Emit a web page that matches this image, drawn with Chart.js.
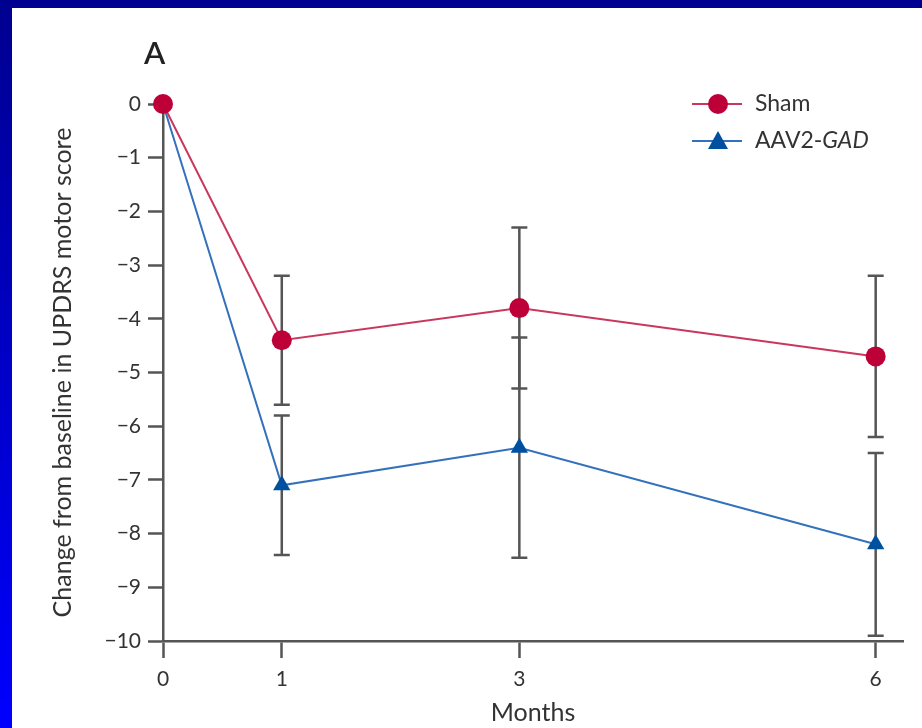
<!DOCTYPE html>
<html>
<head>
<meta charset="utf-8">
<script src="https://cdn.jsdelivr.net/npm/chart.js@4"></script>
<style>
  html, body { margin: 0; padding: 0; }
  body {
    width: 922px; height: 728px; overflow: hidden;
    background: linear-gradient(to bottom, #000090 0%, #0000ff 100%);
    position: relative;
  }
  #wrap {
    position: absolute; left: 12px; top: 8px;
    width: 910px; height: 720px; background: #fff;
  }
</style>
</head>
<body>
<div id="wrap"><canvas id="chart" width="910" height="720"></canvas></div>
<script>
// Data
const months = [0, 1, 3, 6];
const shamMean = [0, -4.4, -3.8, -4.7];
const shamErr = [0, 1.2, 1.5, 1.5];
const gadMean = [0, -7.1, -6.4, -8.2];
const gadErr = [0, 1.3, 2.05, 1.7];
const xTicks = [0, 1, 3, 6];

const FONT = 'Lato, "Open Sans", sans-serif';
const AXIS = '#555555';
const RED = '#be0038', RED_LINE = '#c9375f';
const BLUE = '#0050a0', BLUE_LINE = '#3471bd';

const toPoints = (ys) => months.map((m, i) => ({ x: m, y: ys[i] }));

// Error bars, drawn under the markers
const errorBars = {
    id: 'errorBars',
    beforeDatasetsDraw(chart) {
        const ctx = chart.ctx;
        const xs = chart.scales.x, ys = chart.scales.y;
        const sets = [[shamMean, shamErr], [gadMean, gadErr]];
        ctx.save();
        ctx.strokeStyle = AXIS;
        ctx.lineWidth = 2.5;
        sets.forEach(([mean, err]) => {
            months.forEach((m, i) => {
                if (!err[i]) return;
                const px = xs.getPixelForValue(m);
                const top = ys.getPixelForValue(mean[i] + err[i]);
                const bot = ys.getPixelForValue(mean[i] - err[i]);
                ctx.beginPath();
                ctx.moveTo(px, top); ctx.lineTo(px, bot);
                ctx.moveTo(px - 8, top); ctx.lineTo(px + 8, top);
                ctx.moveTo(px - 8, bot); ctx.lineTo(px + 8, bot);
                ctx.stroke();
            });
        });
        ctx.restore();
    }
};

// Panel letter and the line+marker legend
const extras = {
    id: 'extras',
    afterDraw(chart) {
        const ctx = chart.ctx;
        ctx.save();
        ctx.fillStyle = '#222';
        ctx.font = '600 31px ' + FONT;
        ctx.textBaseline = 'middle';
        ctx.textAlign = 'left';
        ctx.fillText('A', 132, 46);

        const items = [
            { label: 'Sham', line: RED_LINE, fill: RED, shape: 'circle', y: 96 },
            { label: 'AAV2-', italic: 'GAD', line: BLUE_LINE, fill: BLUE, shape: 'triangle', y: 133 }
        ];
        items.forEach(it => {
            ctx.strokeStyle = it.line;
            ctx.lineWidth = 2;
            ctx.beginPath();
            ctx.moveTo(680, it.y); ctx.lineTo(730, it.y);
            ctx.stroke();
            ctx.fillStyle = it.fill;
            ctx.beginPath();
            if (it.shape === 'circle') {
                ctx.arc(706, it.y, 10, 0, Math.PI * 2);
            } else {
                ctx.moveTo(706, it.y - 10);
                ctx.lineTo(716, it.y + 8);
                ctx.lineTo(696, it.y + 8);
                ctx.closePath();
            }
            ctx.fill();
            ctx.fillStyle = '#333';
            ctx.font = '23px ' + FONT;
            ctx.fillText(it.label, 743, it.y);
            if (it.italic) {
                const w = ctx.measureText(it.label).width;
                ctx.font = 'italic 23px ' + FONT;
                ctx.fillText(it.italic, 743 + w, it.y);
            }
        });
        ctx.restore();
    }
};

new Chart(document.getElementById('chart').getContext('2d'), {
    type: 'line',
    data: {
        datasets: [
            {
                label: 'Sham',
                data: toPoints(shamMean),
                borderColor: RED_LINE,
                backgroundColor: RED,
                borderWidth: 2,
                pointStyle: 'circle',
                pointRadius: 10,
                pointBorderWidth: 0,
                pointBackgroundColor: RED,
                tension: 0,
                clip: false
            },
            {
                label: 'AAV2-GAD',
                data: toPoints(gadMean),
                borderColor: BLUE_LINE,
                backgroundColor: BLUE,
                borderWidth: 2,
                pointStyle: 'triangle',
                pointRadius: 10,
                pointBorderWidth: 0,
                pointBackgroundColor: BLUE,
                tension: 0,
                clip: false
            }
        ]
    },
    options: {
        responsive: false,
        animation: false,
        layout: { padding: { top: 96, right: 19, left: 0, bottom: 0 } },
        plugins: { legend: { display: false }, tooltip: { enabled: false } },
        scales: {
            x: {
                type: 'linear',
                min: 0,
                max: 6.23,
                afterBuildTicks: (scale) => { scale.ticks = xTicks.map(v => ({ value: v })); },
                afterFit: (scale) => { scale.height = 87; },
                border: { color: AXIS, width: 2.5 },
                grid: { drawOnChartArea: false, drawTicks: true, tickLength: 17, tickColor: AXIS, tickWidth: 2.5 },
                ticks: { color: '#333', font: { family: FONT, size: 21 }, padding: 9, maxRotation: 0 },
                title: { display: true, text: 'Months', color: '#333', font: { family: FONT, size: 25 }, padding: { top: 0, bottom: 0 } }
            },
            y: {
                min: -10,
                max: 0,
                afterFit: (scale) => { scale.width = 151; },
                border: { color: AXIS, width: 2.5 },
                grid: { drawOnChartArea: false, drawTicks: true, tickLength: 15, tickColor: AXIS, tickWidth: 2.5 },
                ticks: {
                    stepSize: 1,
                    color: '#333',
                    font: { family: FONT, size: 21 },
                    padding: 7,
                    callback: (v) => String(v).replace('-', '\u2212')
                },
                title: { display: true, text: 'Change from baseline in UPDRS motor score', color: '#333', font: { family: FONT, size: 25 }, padding: { top: 36, bottom: 0 } }
            }
        }
    },
    plugins: [errorBars, extras]
});
</script>
</body>
</html>
